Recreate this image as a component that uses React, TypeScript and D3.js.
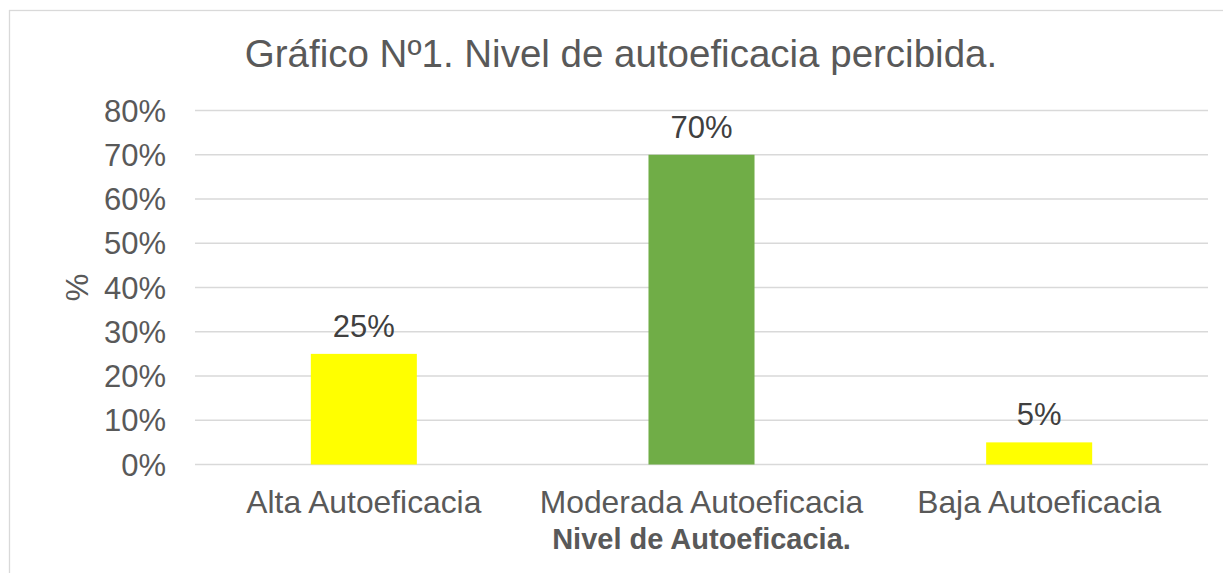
import React from "react";
import * as d3 from "d3";

// data
const categories = ["Alta Autoeficacia", "Moderada Autoeficacia", "Baja Autoeficacia"];
const values = [0.25, 0.7, 0.05];
const barColors = ["#FFFF00", "#70AD47", "#FFFF00"];
const yTicks = [0, 0.1, 0.2, 0.3, 0.4, 0.5, 0.6, 0.7, 0.8];

const titleText = "Gráfico Nº1. Nivel de autoeficacia percibida.";
const xTitle = "Nivel de Autoeficacia.";
const yTitle = "%";

export default function App() {
  const width = 1223;
  const height = 573;
  const left = 195, right = 1208, top = 110.5, bottom = 464.5;
  const font = "'Liberation Sans', Arial, sans-serif";

  const xScale = d3.scaleBand<string>()
    .domain(categories)
    .range([left, right])
    .paddingInner(0.686)
    .paddingOuter(0.343);

  const yScale = d3.scaleLinear().domain([0, 0.8]).range([bottom, top]);
  const pct = d3.format(".0%");

  return (
    <div style={{ position: "absolute", left: 0, top: 0 }}>
      <svg width={width} height={height} style={{ display: "block" }}>
        <rect x={0} y={0} width={width} height={height} fill="#fff" />
        {/* chart border, cropped at right and bottom */}
        <rect x={9.5} y={10.5} width={width + 20} height={height + 20} fill="none" stroke="#D9D9D9" strokeWidth={1.3} />

        {/* title */}
        <text x={621} y={66.5} textAnchor="middle" fontFamily={font} fontSize={38.5} fill="#595959">
          {titleText}
        </text>

        {/* gridlines */}
        {yTicks.map((t) => (
          <line key={`g${t}`} x1={left} x2={right} y1={yScale(t)} y2={yScale(t)} stroke="#D9D9D9" strokeWidth={1.5} />
        ))}

        {/* y tick labels */}
        {yTicks.map((t) => (
          <text key={`t${t}`} x={166} y={yScale(t) + 11} textAnchor="end" fontFamily={font} fontSize={31} fill="#595959">
            {pct(t)}
          </text>
        ))}

        {/* bars */}
        {categories.map((c, i) => (
          <rect
            key={c}
            x={xScale(c)}
            y={yScale(values[i])}
            width={xScale.bandwidth()}
            height={yScale(0) - yScale(values[i])}
            fill={barColors[i]}
          />
        ))}

        {/* data labels */}
        {categories.map((c, i) => (
          <text
            key={`l${c}`}
            x={(xScale(c) as number) + xScale.bandwidth() / 2}
            y={yScale(values[i]) - 17}
            textAnchor="middle"
            fontFamily={font}
            fontSize={31}
            fill="#404040"
          >
            {pct(values[i])}
          </text>
        ))}

        {/* category labels */}
        {categories.map((c) => (
          <text
            key={`c${c}`}
            x={(xScale(c) as number) + xScale.bandwidth() / 2}
            y={513}
            textAnchor="middle"
            fontFamily={font}
            fontSize={31.8}
            fill="#595959"
          >
            {c}
          </text>
        ))}

        {/* axis titles */}
        <text x={(left + right) / 2} y={549} textAnchor="middle" fontFamily={font} fontSize={29} fontWeight="bold" fill="#595959">
          {xTitle}
        </text>
        <text
          transform={`translate(${88},${(top + bottom) / 2}) rotate(-90)`}
          textAnchor="middle"
          fontFamily={font}
          fontSize={31}
          fill="#595959"
        >
          {yTitle}
        </text>
      </svg>
    </div>
  );
}
